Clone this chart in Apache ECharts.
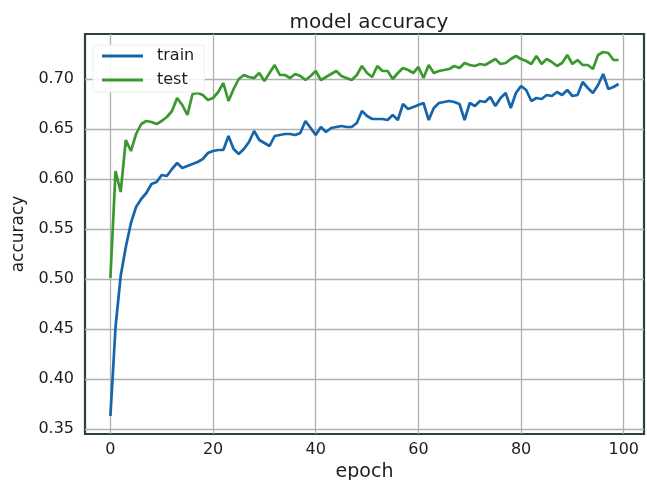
<!DOCTYPE html>
<html>
<head>
<meta charset="utf-8">
<script src="https://cdn.jsdelivr.net/npm/echarts@6/dist/echarts.min.js"></script>
<style>
html,body{margin:0;padding:0;background:#fff;}
#chart{width:647px;height:480px;}
</style>
</head>
<body>
<div id="chart"></div>
<script>
// ---- data ----
const seriesNames = ['train', 'test'];
const xTicks = [0, 20, 40, 60, 80, 100];
const yTicks = [0.35, 0.40, 0.45, 0.50, 0.55, 0.60, 0.65, 0.70];
const trainAcc = [
0.363,0.452,0.503,0.532,0.556,0.572,0.580,0.586,0.595,0.597,
0.604,0.603,0.610,0.616,0.611,0.613,0.615,0.617,0.620,0.626,
0.628,0.629,0.629,0.643,0.630,0.625,0.630,0.637,0.648,0.639,
0.636,0.633,0.643,0.644,0.645,0.645,0.644,0.646,0.658,0.651,
0.644,0.652,0.647,0.651,0.652,0.653,0.652,0.652,0.656,0.668,
0.663,0.660,0.660,0.660,0.659,0.664,0.659,0.675,0.670,0.672,
0.674,0.676,0.659,0.671,0.676,0.677,0.678,0.677,0.675,0.659,
0.676,0.673,0.678,0.677,0.682,0.673,0.681,0.686,0.671,0.686,
0.693,0.689,0.678,0.681,0.680,0.684,0.683,0.687,0.684,0.689,
0.683,0.684,0.697,0.691,0.686,0.694,0.705,0.690,0.692,0.695
];
const testAcc = [
0.501,0.608,0.587,0.639,0.628,0.645,0.655,0.658,0.657,0.655,
0.658,0.662,0.668,0.681,0.674,0.664,0.685,0.686,0.684,0.679,
0.681,0.687,0.696,0.678,0.690,0.700,0.704,0.702,0.701,0.706,
0.698,0.706,0.714,0.704,0.704,0.701,0.705,0.703,0.699,0.703,
0.708,0.699,0.702,0.705,0.708,0.703,0.701,0.699,0.704,0.713,
0.706,0.702,0.713,0.708,0.708,0.700,0.706,0.711,0.709,0.706,
0.712,0.701,0.714,0.706,0.708,0.709,0.710,0.713,0.711,0.716,
0.714,0.713,0.715,0.714,0.717,0.720,0.715,0.716,0.720,0.723,
0.720,0.718,0.715,0.723,0.715,0.720,0.717,0.713,0.716,0.724,
0.715,0.719,0.714,0.714,0.710,0.724,0.727,0.726,0.719,0.719
];

const FONT = 'DejaVu Sans';
const TXT = '#1e1e1e';
const chart = echarts.init(document.getElementById('chart'), null, {renderer: 'canvas'});
const toPairs = arr => arr.map((v, i) => [i, v]);

chart.setOption({
  animation: false,
  backgroundColor: '#ffffff',
  title: {
    text: 'model accuracy',
    left: 364, top: 8, textAlign: 'center',
    textStyle: {fontFamily: FONT, fontSize: 20, fontWeight: 'normal', color: TXT}
  },
  legend: {
    left: 93, top: 45, orient: 'vertical',
    data: seriesNames,
    icon: 'rect', itemWidth: 41, itemHeight: 2.8, itemGap: 8,
    padding: [3, 10, 4, 9],
    backgroundColor: 'rgba(255,255,255,0.85)',
    borderColor: '#eeeeee', borderWidth: 1, borderRadius: 3,
    textStyle: {fontFamily: FONT, fontSize: 16, color: TXT, padding: [0, 0, 0, 9], lineHeight: 16}
  },
  grid: {
    left: 85, right: 3, top: 34, bottom: 46,
    show: true, borderColor: '#2f4040', borderWidth: 2.2,
    containLabel: false, outerBoundsMode: 'none'
  },
  xAxis: {
    type: 'value', min: -4.95, max: 103.95,
    name: 'epoch', nameLocation: 'middle', nameGap: 26,
    nameTextStyle: {fontFamily: FONT, fontSize: 19, color: TXT},
    axisLine: {show: false},
    axisTick: {show: false, customValues: xTicks},
    axisLabel: {customValues: xTicks, margin: 8, fontFamily: FONT, fontSize: 16, color: TXT},
    splitLine: {show: true, lineStyle: {color: '#b0b0b0', width: 1.3}}
  },
  yAxis: {
    type: 'value', min: 0.345, max: 0.745,
    name: 'accuracy', nameLocation: 'middle', nameGap: 55, nameRotate: 90,
    nameTextStyle: {fontFamily: FONT, fontSize: 17, color: TXT},
    axisLine: {show: false},
    axisTick: {show: false, customValues: yTicks},
    axisLabel: {customValues: yTicks, margin: 11, fontFamily: FONT, fontSize: 16, color: TXT,
      formatter: v => v.toFixed(2)},
    splitLine: {show: true, lineStyle: {color: '#b0b0b0', width: 1.3}}
  },
  series: [
    {name: seriesNames[0], type: 'line', data: toPairs(trainAcc), showSymbol: false,
     lineStyle: {color: '#1565ab', width: 2.7}, itemStyle: {color: '#1565ab'}, z: 3},
    {name: seriesNames[1], type: 'line', data: toPairs(testAcc), showSymbol: false,
     lineStyle: {color: '#3a992d', width: 2.7}, itemStyle: {color: '#3a992d'}, z: 2}
  ]
});
</script>
</body>
</html>
